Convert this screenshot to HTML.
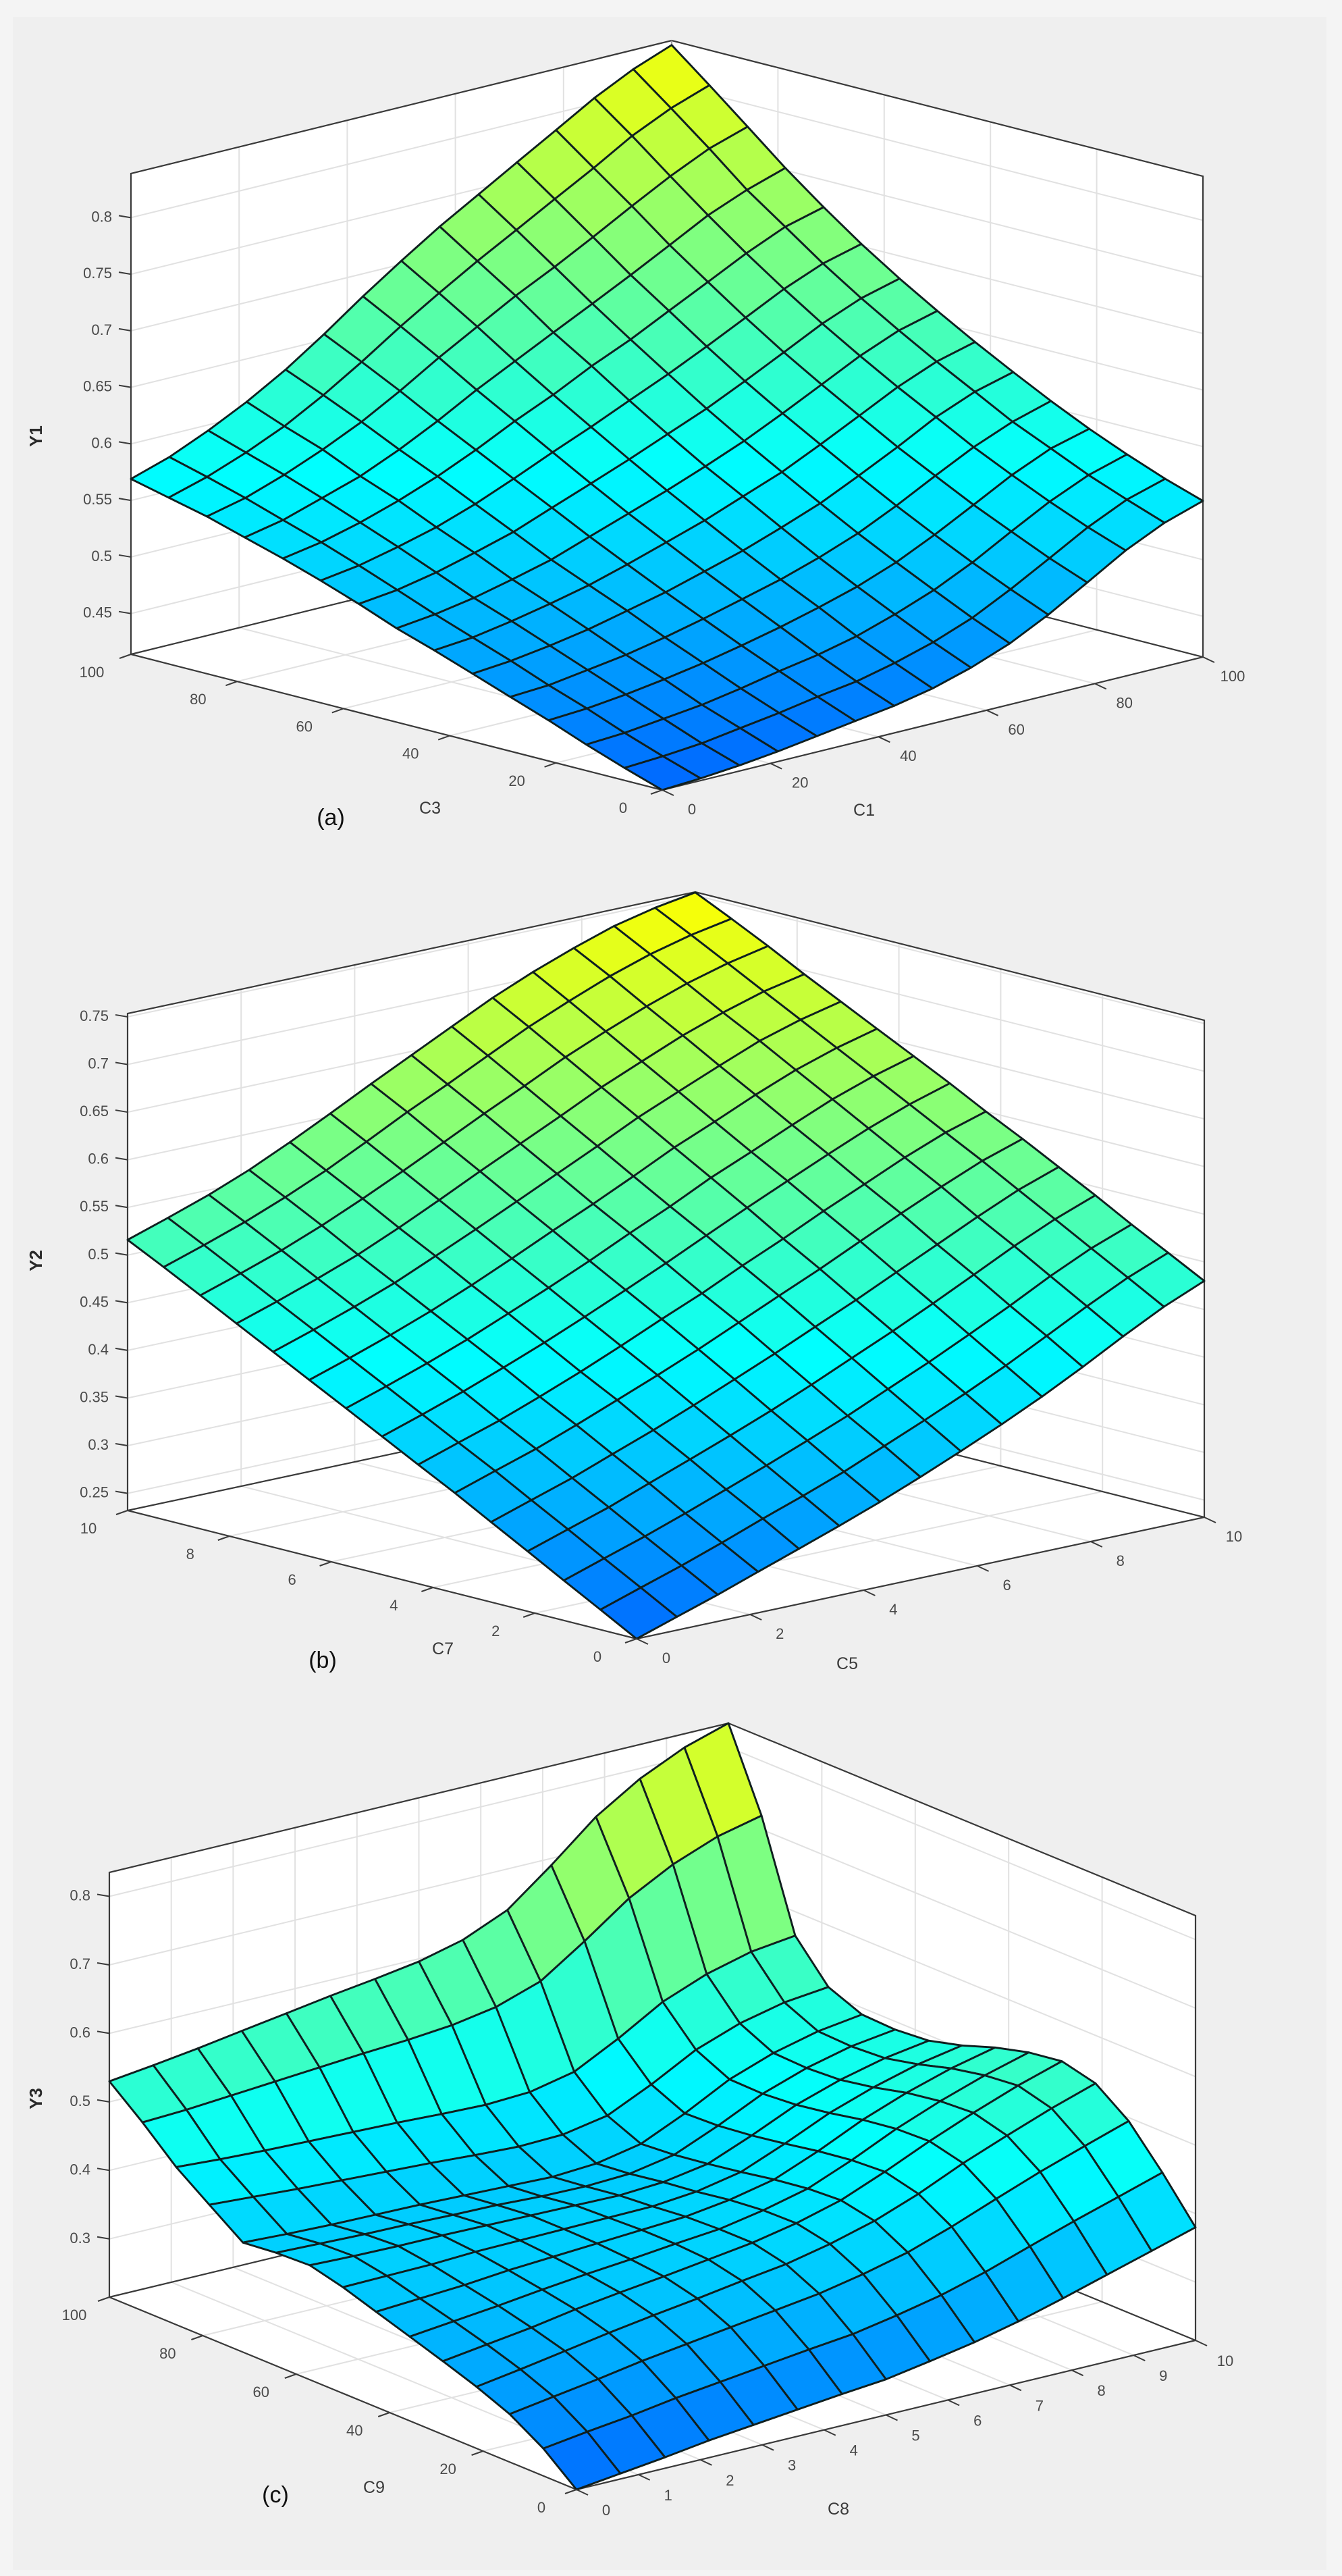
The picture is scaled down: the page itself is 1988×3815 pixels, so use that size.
<!DOCTYPE html>
<html><head><meta charset="utf-8"><title>Fuzzy surfaces Y1 Y2 Y3</title>
<style>
html,body{margin:0;padding:0;background:#f4f4f4;}
#wrap{position:relative;width:1988px;height:3815px;overflow:hidden;}
svg{position:absolute;left:0;top:0;}
text{font-family:"Liberation Sans",Arial,sans-serif;}
</style></head>
<body>
<div id="wrap">
<svg id="chart" width="1988" height="3815" viewBox="0 0 1988 3815">
<rect x="19" y="25" width="1946" height="3781" fill="#efefef"/>
</svg>
</div>
<script>
// ---------- Panel (a): Y1 vs C1 (x) and C3 (y) ----------
const c1Values = [0,7.1,14.3,21.4,28.6,35.7,42.9,50,57.1,64.3,71.4,78.6,85.7,92.9,100];
const c3Values = [0,7.1,14.3,21.4,28.6,35.7,42.9,50,57.1,64.3,71.4,78.6,85.7,92.9,100];
const y1Values = [
[.414,.416,.419,.423,.428,.433,.438,.445,.455,.468,.485,.505,.525,.541,.552],
[.425,.427,.430,.435,.440,.446,.451,.459,.469,.482,.499,.518,.537,.553,.563],
[.437,.439,.443,.447,.453,.460,.466,.474,.485,.498,.514,.533,.551,.566,.576],
[.450,.452,.456,.461,.467,.474,.482,.491,.501,.514,.530,.548,.566,.581,.590],
[.462,.464,.469,.474,.481,.489,.498,.507,.518,.531,.547,.565,.582,.596,.606],
[.474,.477,.482,.488,.496,.504,.514,.524,.536,.549,.565,.582,.600,.614,.623],
[.486,.489,.495,.502,.510,.520,.531,.542,.555,.568,.584,.601,.618,.632,.641],
[.497,.501,.507,.515,.524,.536,.548,.560,.573,.587,.603,.620,.637,.651,.660],
[.510,.514,.521,.530,.540,.553,.566,.579,.593,.607,.623,.640,.657,.671,.680],
[.522,.527,.535,.544,.556,.570,.585,.599,.614,.629,.645,.662,.679,.693,.702],
[.533,.539,.548,.559,.572,.587,.604,.619,.636,.651,.668,.685,.702,.717,.726],
[.543,.550,.561,.572,.587,.604,.623,.640,.657,.674,.691,.709,.727,.741,.752],
[.553,.561,.573,.587,.603,.622,.643,.662,.681,.698,.716,.735,.753,.769,.780],
[.561,.571,.584,.599,.618,.639,.662,.683,.703,.722,.741,.760,.780,.796,.808],
[.569,.580,.595,.612,.632,.655,.680,.703,.725,.745,.765,.785,.805,.822,.835]];
const c1Ticks = [0,20,40,60,80,100];
const c3Ticks = [0,20,40,60,80,100];
const y1Ticks = [0.45,0.5,0.55,0.6,0.65,0.7,0.75,0.8];

// ---------- Panel (b): Y2 vs C5 (x) and C7 (y) ----------
const c5Values = [0,0.71,1.43,2.14,2.86,3.57,4.29,5,5.71,6.43,7.14,7.86,8.57,9.29,10];
const c7Values = [0,0.71,1.43,2.14,2.86,3.57,4.29,5,5.71,6.43,7.14,7.86,8.57,9.29,10];
const y2Values = [
[.232,.246,.260,.275,.290,.305,.321,.338,.356,.375,.395,.417,.440,.462,.480],
[.253,.267,.281,.296,.312,.327,.343,.361,.379,.398,.418,.440,.462,.483,.500],
[.274,.288,.302,.317,.333,.349,.366,.383,.402,.421,.441,.462,.484,.504,.520],
[.295,.309,.323,.339,.355,.371,.388,.406,.425,.444,.464,.485,.506,.525,.541],
[.316,.330,.344,.360,.376,.393,.411,.429,.448,.467,.487,.507,.527,.546,.561],
[.337,.351,.365,.381,.398,.415,.433,.452,.471,.490,.510,.530,.549,.567,.581],
[.357,.371,.385,.401,.418,.436,.455,.473,.493,.512,.532,.551,.570,.587,.600],
[.377,.391,.406,.422,.439,.457,.476,.495,.515,.535,.554,.573,.591,.607,.620],
[.397,.411,.426,.442,.460,.478,.497,.517,.536,.557,.575,.594,.612,.627,.639],
[.417,.431,.446,.462,.480,.499,.519,.538,.558,.579,.597,.616,.633,.647,.658],
[.437,.451,.466,.482,.501,.520,.540,.560,.580,.601,.619,.637,.654,.667,.677],
[.457,.471,.486,.502,.521,.541,.562,.582,.602,.623,.641,.659,.674,.687,.696],
[.477,.491,.506,.523,.542,.562,.583,.604,.624,.645,.663,.680,.695,.707,.716],
[.497,.511,.526,.543,.562,.583,.605,.625,.646,.667,.685,.702,.716,.727,.735],
[.516,.530,.545,.562,.582,.603,.625,.646,.667,.688,.706,.722,.736,.746,.753]];
const c5Ticks = [0,2,4,6,8,10];
const c7Ticks = [0,2,4,6,8,10];
const y2Ticks = [0.25,0.3,0.35,0.4,0.45,0.5,0.55,0.6,0.65,0.7,0.75];

// ---------- Panel (c): Y3 vs C8 (x) and C9 (y) ----------
const c8Values = [0,0.71,1.43,2.14,2.86,3.57,4.29,5,5.71,6.43,7.14,7.86,8.57,9.29,10];
const c9Values = [0,7.1,14.3,21.4,28.6,35.7,42.9,50,57.1,64.3,71.4,78.6,85.7,92.9,100];
const y3Values = [
[.215,.223,.231,.240,.247,.254,.261,.267,.278,.290,.305,.323,.342,.361,.380],
[.255,.264,.272,.282,.290,.298,.306,.313,.325,.339,.357,.379,.400,.420,.440],
[.285,.295,.305,.316,.325,.334,.343,.352,.365,.381,.403,.428,.452,.474,.495],
[.305,.315,.326,.337,.347,.356,.366,.375,.389,.407,.431,.460,.485,.509,.530],
[.322,.331,.340,.351,.360,.368,.377,.386,.399,.417,.443,.472,.498,.522,.542],
[.338,.345,.352,.360,.367,.373,.380,.386,.398,.414,.440,.470,.495,.517,.535],
[.354,.358,.362,.368,.372,.376,.380,.384,.393,.407,.433,.463,.487,.507,.522],
[.370,.371,.372,.375,.376,.377,.378,.379,.385,.398,.424,.453,.475,.493,.505],
[.382,.380,.379,.379,.378,.377,.376,.375,.379,.390,.416,.445,.466,.482,.492],
[.380,.378,.376,.375,.373,.372,.369,.368,.371,.383,.410,.441,.463,.479,.488],
[.375,.372,.370,.369,.368,.366,.364,.362,.366,.379,.408,.442,.465,.481,.490],
[.410,.406,.402,.399,.396,.393,.389,.386,.388,.400,.430,.465,.488,.503,.510],
[.445,.441,.438,.436,.434,.432,.429,.427,.430,.444,.477,.515,.540,.557,.565],
[.490,.493,.498,.503,.508,.513,.517,.523,.534,.556,.599,.646,.680,.705,.720],
[.530,.538,.547,.557,.567,.577,.586,.596,.612,.640,.690,.745,.785,.815,.835]];
const c8Ticks = [0,1,2,3,4,5,6,7,8,9,10];
const c9Ticks = [0,20,40,60,80,100];
const y3Ticks = [0.3,0.4,0.5,0.6,0.7,0.8];

const NS = 'http://www.w3.org/2000/svg';
const svg = document.getElementById('chart');
function mk(tag, attrs, parent) {
  const e = document.createElementNS(NS, tag);
  for (const k in attrs) e.setAttribute(k, attrs[k]);
  (parent || svg).appendChild(e);
  return e;
}
function clamp(x){ return Math.max(0, Math.min(1, x)); }
function jet(t) {
  const r = clamp(1.5 - Math.abs(4*t - 3)), g = clamp(1.5 - Math.abs(4*t - 2)), b = clamp(1.5 - Math.abs(4*t - 1));
  return 'rgb(' + Math.round(r*255) + ',' + Math.round(g*255) + ',' + Math.round(b*255) + ')';
}
function fmt(v){ return String(+v.toFixed(2)); }

function drawPanel(cfg, xs, ys, Z, xTicks, yTicks, zTicks) {
  const g = mk('g', {});
  
  
  const F = cfg.F, L = cfg.L, R = cfg.R, H = cfg.H;
  const xmin = xs[0], xmax = xs[xs.length-1], ymin = ys[0], ymax = ys[ys.length-1];
  function P(x, y, z) {
    const u = (x - xmin)/(xmax - xmin), v = (y - ymin)/(ymax - ymin), w = (z - cfg.zmin)/(cfg.zmax - cfg.zmin);
    return [F[0] + u*(R[0]-F[0]) + v*(L[0]-F[0]), F[1] + u*(R[1]-F[1]) + v*(L[1]-F[1]) - w*H];
  }
  const pts = a => a.map(p => p[0].toFixed(1) + ',' + p[1].toFixed(1)).join(' ');
  const zb = cfg.zmin, zt = cfg.zmax;
  const area = mk('polygon', {points: pts([P(xmin,ymax,zb),P(xmin,ymax,zt),P(xmax,ymax,zt),P(xmax,ymin,zt),P(xmax,ymin,zb),P(xmin,ymin,zb)]), fill:'#ffffff'}, g);
  
  
  const gridG = mk('g', {stroke:'#e1e1e1', 'stroke-width':2, fill:'none'}, g);
  
  
  zTicks.forEach(z => {
    mk('polyline', {points: pts([P(xmin,ymax,z),P(xmax,ymax,z),P(xmax,ymin,z)])}, gridG);
  });
  xTicks.forEach(x => {
    mk('polyline', {points: pts([P(x,ymin,zb),P(x,ymax,zb),P(x,ymax,zt)])}, gridG);
  });
  yTicks.forEach(y => {
    mk('polyline', {points: pts([P(xmin,y,zb),P(xmax,y,zb),P(xmax,y,zt)])}, gridG);
  });
  const boxG = mk('g', {stroke:'#3a3a3a', 'stroke-width':2.2, fill:'none'}, g);
  
  
  mk('polyline', {points: pts([P(xmin,ymin,zb),P(xmin,ymax,zb),P(xmin,ymax,zt),P(xmax,ymax,zt),P(xmax,ymin,zt),P(xmax,ymin,zb),P(xmin,ymin,zb)])}, boxG);
  mk('polyline', {points: pts([P(xmin,ymax,zb),P(xmax,ymax,zb),P(xmax,ymin,zb)])}, boxG);
  mk('polyline', {points: pts([P(xmax,ymax,zb),P(xmax,ymax,zt)]), stroke:'#9a9a9a'}, boxG);
  const surfG = mk('g', {stroke:'#0f1f1f', 'stroke-width':2.9, 'stroke-linejoin':'round'}, g);
  
  
  const faces = [];
  for (let j = 0; j < ys.length-1; j++) for (let i = 0; i < xs.length-1; i++) faces.push([i, j]);
  faces.sort((a, b) => (b[0]+b[1]) - (a[0]+a[1]));
  faces.forEach(f => {
    const i = f[0], j = f[1];
    const za = (Z[j][i] + Z[j][i+1] + Z[j+1][i] + Z[j+1][i+1]) / 4;
    const t = 0.225 + 0.40*(za - cfg.zmin)/(cfg.zmax - cfg.zmin);
    const poly = mk('polygon', {points: pts([P(xs[i],ys[j],Z[j][i]),P(xs[i+1],ys[j],Z[j][i+1]),P(xs[i+1],ys[j+1],Z[j+1][i+1]),P(xs[i],ys[j+1],Z[j+1][i])]), fill: jet(t)}, surfG);
    
    
  });
  const tickG = mk('g', {stroke:'#3a3a3a', 'stroke-width':2}, g);
  
  
  const txtStyle = {fill:'#4a4a4a', 'font-size':22};
  zTicks.forEach(z => {
    const p = P(xmin, ymax, z);
    mk('line', {x1:p[0], y1:p[1], x2:p[0]-18, y2:p[1]-3}, tickG);
    const t = mk('text', Object.assign({x:p[0]-28, y:p[1]+6, 'text-anchor':'end'}, txtStyle), g);
    t.textContent = fmt(z);
    
    
  });
  yTicks.forEach(y => {
    const p = P(xmin, y, zb);
    mk('line', {x1:p[0], y1:p[1], x2:p[0]-17, y2:p[1]+6}, tickG);
    const t = mk('text', Object.assign({x:p[0]+cfg.yOff[0], y:p[1]+cfg.yOff[1], 'text-anchor':'middle'}, txtStyle), g);
    t.textContent = String(y);
    
    
  });
  xTicks.forEach(x => {
    const p = P(x, ymin, zb);
    mk('line', {x1:p[0], y1:p[1], x2:p[0]+17, y2:p[1]+8}, tickG);
    const t = mk('text', Object.assign({x:p[0]+cfg.xOff[0], y:p[1]+cfg.xOff[1], 'text-anchor':'middle'}, txtStyle), g);
    t.textContent = String(x);
    
    
  });
  const xl = mk('text', {x:cfg.xLab[0], y:cfg.xLab[1], 'text-anchor':'middle', fill:'#3a3a3a', 'font-size':25}, g);
  xl.textContent = cfg.xName;
  
  
  const yl = mk('text', {x:cfg.yLab[0], y:cfg.yLab[1], 'text-anchor':'middle', fill:'#3a3a3a', 'font-size':25}, g);
  yl.textContent = cfg.yName;
  
  
  const zl = mk('text', {x:cfg.zLab[0], y:cfg.zLab[1], 'text-anchor':'middle', fill:'#2a2a2a', 'font-size':26, 'font-weight':'bold', transform:'rotate(-90 ' + cfg.zLab[0] + ' ' + cfg.zLab[1] + ')'}, g);
  zl.textContent = cfg.zName;
  
  
  const pl = mk('text', {x:cfg.pLab[0], y:cfg.pLab[1], 'text-anchor':'middle', fill:'#111', 'font-size':34}, g);
  pl.textContent = cfg.panel;
  
  
}

drawPanel({name:'panel-a', F:[981,1170], L:[194,969], R:[1782,973], H:712, zmin:0.414, zmax:0.839,
  yOff:[-58,34], xOff:[44,36], xLab:[1280,1208], yLab:[637,1205], zLab:[62,646], pLab:[490,1222],
  xName:'C1', yName:'C3', zName:'Y1', panel:'(a)'}, c1Values, c3Values, y1Values, c1Ticks, c3Ticks, y1Ticks);
drawPanel({name:'panel-b', F:[943,2427], L:[189,2237], R:[1784,2247], H:736, zmin:0.232, zmax:0.7535,
  yOff:[-58,34], xOff:[44,36], xLab:[1255,2472], yLab:[656,2450], zLab:[62,1867], pLab:[478,2470],
  xName:'C5', yName:'C7', zName:'Y2', panel:'(b)'}, c5Values, c7Values, y2Values, c5Ticks, c7Ticks, y2Ticks);
drawPanel({name:'panel-c', F:[854,3687], L:[162,3402], R:[1771,3466], H:629, zmin:0.215, zmax:0.835,
  yOff:[-52,34], xOff:[44,38], xLab:[1242,3724], yLab:[554,3692], zLab:[62,3108], pLab:[408,3706],
  xName:'C8', yName:'C9', zName:'Y3', panel:'(c)'}, c8Values, c9Values, y3Values, c8Ticks, c9Ticks, y3Ticks);
</script>
</body></html>
